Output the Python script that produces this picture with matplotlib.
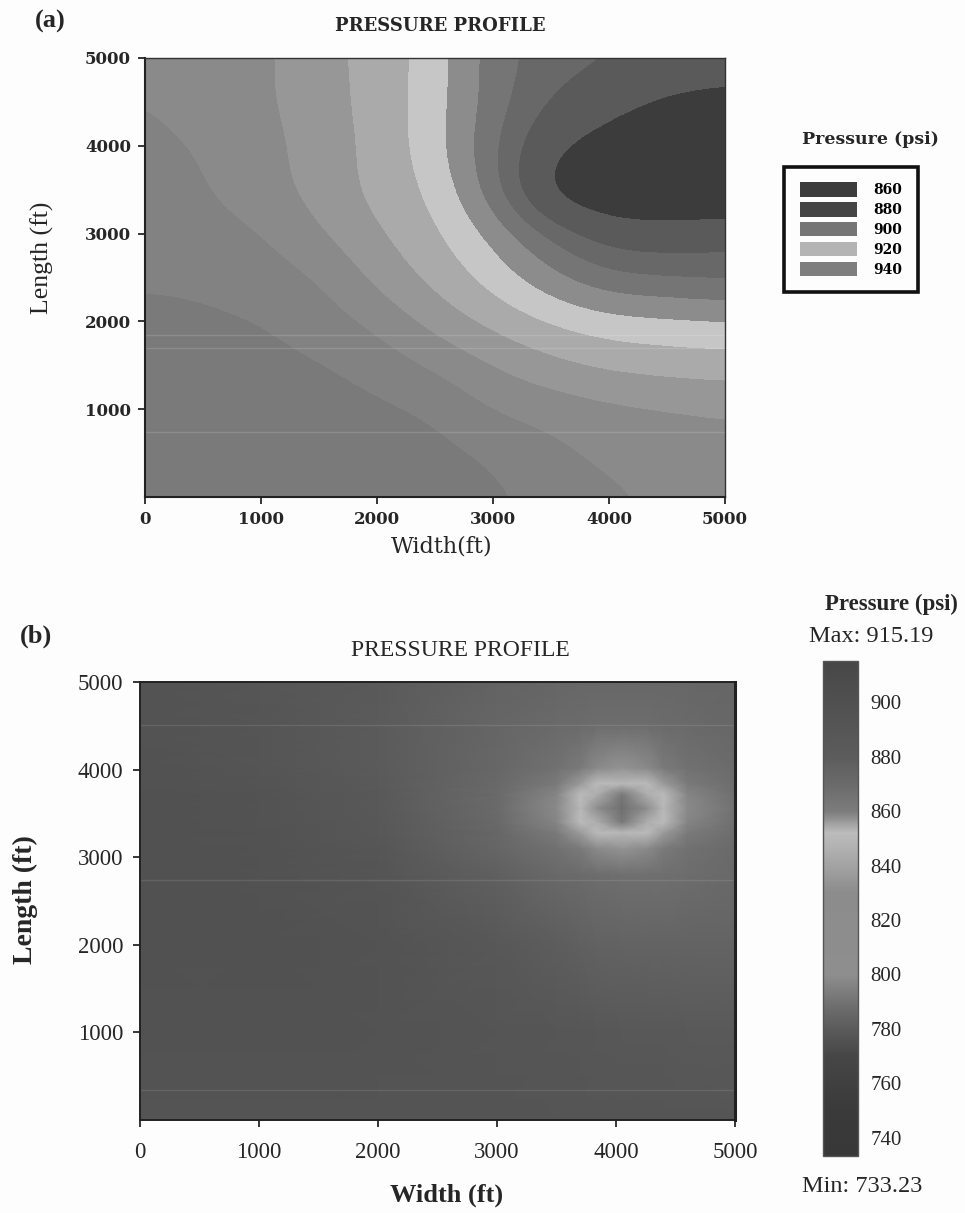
#!/usr/bin/python

# pressure profiles, (a) banded contour map and (b) continuous map with colour bar

import numpy as np
import matplotlib
matplotlib.use('Agg')
import matplotlib.pyplot as plt
from matplotlib.colors import BoundaryNorm, ListedColormap, LinearSegmentedColormap
from matplotlib.patches import Patch

W, H = 965.0, 1213.0

ticks_x = [0, 1000, 2000, 3000, 4000, 5000]
ticks_y = [1000, 2000, 3000, 4000, 5000]

a_p = np.array([
    [980, 979, 977, 975, 973, 970, 967, 962, 957, 953, 951],
    [978, 977, 975, 973, 971, 968, 964, 958, 952, 951, 950],
    [975, 974, 972, 970, 967, 964, 954.5, 951, 948, 946, 944],
    [971, 970, 968, 966, 961, 954, 945, 938, 933, 931, 930],
    [967, 966.5, 965.5, 960, 953, 941, 932, 924, 919, 917.5, 916],
    [964, 963.5, 959.5, 955.5, 942, 932, 921, 908, 897, 895, 893],
    [961, 958.5, 956, 946, 936, 927, 913, 893, 878, 877, 880],
    [959, 956, 949.5, 941, 932, 923.5, 900, 862, 855, 853, 853],
    [958, 954.5, 948.5, 941, 932, 919.5, 897, 872, 863, 858, 857],
    [955.5, 950, 947, 940, 931, 920, 900, 884, 875, 867, 865],
    [951, 949, 947.5, 939, 931, 921, 899, 890, 886, 881, 878],
])
a_levels = [840, 870, 885, 895, 905, 915, 925, 935, 945, 955, 965, 990]
a_greys = ['#3c3c3c', '#5a5a5a', '#686868', '#757575', '#8c8c8c', '#c6c6c6',
           '#aaaaaa', '#979797', '#8a8a8a', '#828282', '#7a7a7a']

legend_labels = ['860', '880', '900', '920', '940']
legend_greys = ['#3c3c3c', '#454545', '#757575', '#b4b4b4', '#7e7e7e']

# panel (b) pressure, finer spacing around the well
b_x = np.array([0, 1000, 2000, 3000, 3500, 3700, 3840, 4050, 4260, 4400, 4600, 5000])
b_y = np.array([0, 1000, 2000, 2800, 3100, 3280, 3400, 3560, 3720, 3840, 4020, 4500, 5000])
b_p = np.array([
    [893, 893, 893, 893, 892, 892, 892, 892, 892, 892, 891, 890],
    [896, 896, 895, 892, 890, 889, 888, 887, 887, 886, 885, 884],
    [898, 898, 894, 886, 879, 877, 876, 875, 875, 875, 875, 874],
    [898, 897, 891, 877, 871, 869, 868, 867, 867, 867, 868, 871],
    [898, 897, 889, 873, 866, 861, 858, 857, 858, 861, 866, 870],
    [898, 896, 887, 872, 861, 856, 852, 850, 852, 856, 861, 868],
    [898, 895, 886, 871, 859, 852, 845, 792, 845, 852, 859, 867],
    [898, 894, 885, 870, 858, 850, 800, 788, 800, 850, 858, 866],
    [898, 894, 884, 870, 859, 852, 845, 792, 845, 852, 859, 867],
    [897, 893, 883, 871, 861, 856, 852, 850, 852, 856, 861, 868],
    [896, 892, 882, 872, 866, 861, 858, 857, 858, 861, 866, 869],
    [895, 891, 881, 873, 870, 869, 868, 868, 868, 869, 870, 872],
    [895, 890, 883, 875, 873, 872, 872, 872, 872, 872, 872, 873],
])
p_min, p_max = 733.23, 915.19
cbar_ticks = [740, 760, 780, 800, 820, 840, 860, 880, 900]
cbar_vals = [733.23, 750, 770, 785, 800, 830, 845, 852, 860, 870, 880, 900, 915.19]
cbar_greys = ['#383838', '#3a3a3a', '#464646', '#666666', '#8e8e8e', '#8c8c8c', '#aeaeae',
              '#bcbcbc', '#7c7c7c', '#6a6a6a', '#5c5c5c', '#505050', '#474747']

# faint scan streaks, y in ft
a_streaks = [740, 1700, 1845]
b_streaks = [340, 2740, 4510]

serif_a = 'DejaVu Serif'
serif_b = 'Liberation Serif'
ink = '#262626'

fig = plt.figure(figsize=(W / 100, H / 100), dpi=100, facecolor='#fdfdfd')


def axes_px(left, top, right, bottom):
    return fig.add_axes([left / W, 1 - bottom / H, (right - left) / W, (bottom - top) / H])


def text_px(x, y, s, **kw):
    kw.setdefault('color', ink)
    kw.setdefault('ha', 'center')
    kw.setdefault('va', 'center')
    fig.text(x / W, 1 - y / H, s, **kw)


# panel (a)
ax = axes_px(145, 58, 725, 497)
cmap = ListedColormap(a_greys)
norm = BoundaryNorm(a_levels, cmap.N)
ax.imshow(a_p, origin='lower', extent=[-250, 5250, -250, 5250], cmap=cmap, norm=norm,
          interpolation='bicubic', interpolation_stage='data', aspect='auto')
for y in a_streaks:
    ax.axhline(y, color='white', lw=1, alpha=0.14)
ax.set_xlim(0, 5000)
ax.set_ylim(0, 5000)
ax.set_xticks(ticks_x)
ax.set_yticks(ticks_y)
ax.tick_params(length=5, width=1.3, color=ink, pad=5)
for lab in ax.get_xticklabels() + ax.get_yticklabels():
    lab.set(family=serif_a, fontsize=12, color=ink, fontweight='bold')
for s in ['top', 'right']:
    ax.spines[s].set(linewidth=1, color='#333333')
for s in ['left', 'bottom']:
    ax.spines[s].set(linewidth=1.5, color='#222222')
text_px(442, 547, 'Width(ft)', family=serif_a, fontsize=16)
text_px(42, 258, 'Length (ft)', family=serif_b, fontsize=18.5, rotation=90)
text_px(440, 26, 'PRESSURE PROFILE', family=serif_a, fontsize=13, fontweight='bold')
text_px(50, 21, '(a)', family=serif_b, fontsize=19, fontweight='bold')
text_px(870, 139, 'Pressure (psi)', family=serif_a, fontsize=12.5, fontweight='bold')

handles = [Patch(facecolor=g, edgecolor='none') for g in legend_greys]
leg = fig.legend(handles, legend_labels, loc='center', bbox_to_anchor=(851 / W, 1 - 229.5 / H),
                 prop={'family': serif_a, 'size': 10, 'weight': 'bold'}, fancybox=False,
                 edgecolor='#111111', facecolor='#fdfdfd', framealpha=1,
                 handlelength=4.17, handleheight=1.22, labelspacing=0.36, handletextpad=1.15,
                 borderpad=1.1, borderaxespad=0)
leg.get_frame().set_linewidth(2.6)

# panel (b)
bx = axes_px(140, 682, 735, 1120)
bar_cmap = LinearSegmentedColormap.from_list(
    'bar', [((v - p_min) / (p_max - p_min), g) for v, g in zip(cbar_vals, cbar_greys)], N=512)
mesh = bx.pcolormesh(b_x, b_y, b_p, cmap=bar_cmap, vmin=p_min, vmax=p_max, shading='gouraud')
for y in b_streaks:
    bx.axhline(y, color='white', lw=1, alpha=0.1)
bx.set_xlim(0, 5000)
bx.set_ylim(0, 5000)
bx.set_xticks(ticks_x)
bx.set_yticks(ticks_y)
bx.tick_params(length=5, width=1.3, color=ink)
bx.tick_params(axis='x', pad=11)
bx.tick_params(axis='y', pad=7)
for lab in bx.get_xticklabels() + bx.get_yticklabels():
    lab.set(family=serif_b, fontsize=16.5, color=ink)
for s in ['top', 'left', 'bottom']:
    bx.spines[s].set(linewidth=1.4, color='#222222')
bx.spines['right'].set(linewidth=2.2, color='#222222')
text_px(447, 1195, 'Width (ft)', family=serif_b, fontsize=19, fontweight='bold')
text_px(25, 900, 'Length (ft)', family=serif_b, fontsize=20, fontweight='bold', rotation=90)
text_px(460, 650, 'PRESSURE PROFILE', family=serif_b, fontsize=17)
text_px(36, 636, '(b)', family=serif_b, fontsize=19, fontweight='bold')

cax = axes_px(823, 661, 858, 1156)
cb = fig.colorbar(mesh, cax=cax)
cb.set_ticks(cbar_ticks)
cb.ax.tick_params(length=0, pad=9)
for lab in cb.ax.get_yticklabels():
    lab.set(family=serif_b, fontsize=15, color=ink)
cb.outline.set(linewidth=1, edgecolor='#555555')
text_px(891, 604, 'Pressure (psi)', family=serif_b, fontsize=16.5, fontweight='bold')
text_px(871, 637, 'Max: 915.19', family=serif_b, fontsize=17.5)
text_px(862, 1186, 'Min: 733.23', family=serif_b, fontsize=17.5)

plt.savefig('out.png', dpi=100, facecolor=fig.get_facecolor())
